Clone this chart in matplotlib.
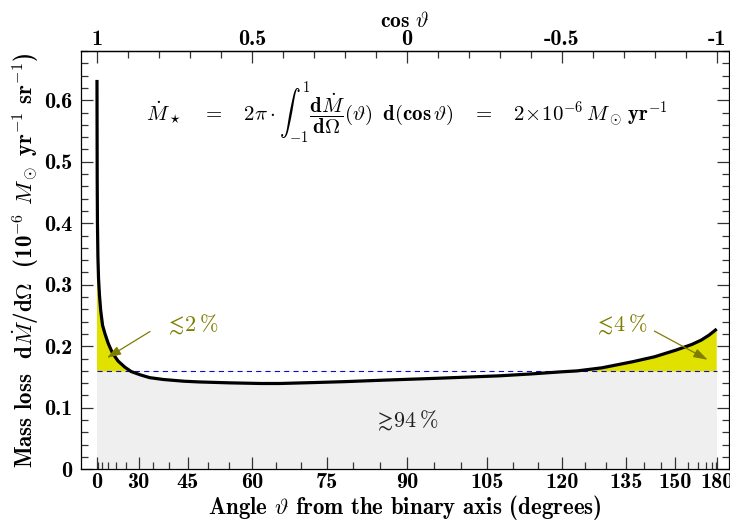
import numpy as np
import matplotlib.pyplot as plt
from matplotlib.ticker import FixedLocator, MultipleLocator, FuncFormatter

plt.rcParams['font.family'] = 'cmb10'
plt.rcParams['mathtext.fontset'] = 'cm'
plt.rcParams['axes.unicode_minus'] = False
plt.rcParams['font.size'] = 16.5

# mass loss per solid angle, sampled in cos(theta)
cos_theta = np.array([1.000, 0.9997, 0.9993, 0.9985, 0.997, 0.995, 0.992, 0.988,
                      0.982, 0.974, 0.964, 0.950, 0.932, 0.910, 0.890, 0.860,
                      0.830, 0.786, 0.72, 0.67, 0.57, 0.47, 0.41, 0.30, 0.20,
                      0.07, -0.10, -0.20, -0.30, -0.40, -0.50, -0.55, -0.63,
                      -0.73, -0.80, -0.87, -0.92, -0.95, -0.975, -1.00])
mdot = np.array([0.633, 0.55, 0.47, 0.40, 0.345, 0.31, 0.283, 0.258,
                 0.234, 0.220, 0.205, 0.189, 0.176, 0.166, 0.159, 0.1535,
                 0.149, 0.146, 0.1432, 0.142, 0.1405, 0.1395, 0.1395, 0.141, 0.1425,
                 0.145, 0.148, 0.150, 0.152, 0.155, 0.1585, 0.160, 0.165,
                 0.175, 0.183, 0.194, 0.203, 0.210, 0.218, 0.228])
level = 0.159  # isotropic reference level

theta_major = [0, 30, 45, 60, 75, 90, 105, 120, 135, 150, 180]
theta_minor = [d for d in range(5, 180, 5) if d not in theta_major]
cos_major = [1, 0.5, 0, -0.5, -1]
cos_labels = ['1', '0.5', '0', '-0.5', '-1']

olive = '#7d7d00'
arrow_style = '-|>,head_length=0.5,head_width=0.16'

fig = plt.figure(figsize=(7.3, 5.22), dpi=100)
ax = fig.add_axes([81 / 730, 52.7 / 522, 648 / 730, 418.3 / 522])

ax.fill_between(cos_theta, 0, level, color='#efefef', lw=0, zorder=1)
ax.fill_between(cos_theta, mdot, level, where=mdot < level, interpolate=True,
                color='white', lw=0, zorder=1.5)
ax.fill_between(cos_theta, level, mdot, where=mdot > level, interpolate=True,
                color='#e1e100', lw=0, zorder=1.5)
dash, = ax.plot([cos_theta[0], cos_theta[-1]], [level, level], color='#0a0ad0',
                lw=0.8, zorder=2)
dash.set_dashes((4.6, 3.8))
ax.plot(cos_theta, mdot, color='black', lw=2.3, zorder=3, solid_capstyle='butt')

ax.set_xlim(1.0516, -1.0397)
ax.set_ylim(0, 0.68)

# bottom axis: angle, placed at cos(theta)
ax.xaxis.set_major_locator(FixedLocator(np.cos(np.radians(theta_major))))
ax.xaxis.set_minor_locator(FixedLocator(np.cos(np.radians(theta_minor))))
ax.set_xticklabels([str(d) for d in theta_major])
ax.yaxis.set_major_locator(MultipleLocator(0.1))
ax.yaxis.set_minor_locator(MultipleLocator(0.02))
ax.yaxis.set_major_formatter(FuncFormatter(lambda v, p: '0' if abs(v) < 1e-9 else f'{v:.1f}'))
ax.tick_params(which='both', direction='in', right=True, top=False, width=0.9,
               color='#333333', labelsize=16)
ax.tick_params(which='major', length=8.5)
ax.tick_params(which='minor', length=5)
ax.tick_params(axis='x', pad=3)
ax.tick_params(axis='y', pad=6)

top = ax.secondary_xaxis('top')
top.xaxis.set_major_locator(FixedLocator(cos_major))
top.xaxis.set_minor_locator(MultipleLocator(0.1))
top.set_xticklabels(cos_labels)
top.tick_params(which='both', direction='in', width=0.9, color='#333333', pad=1.5,
                labelsize=16)
top.tick_params(which='major', length=8.5)
top.tick_params(which='minor', length=5)
top.set_xlabel(r'cos $\vartheta$', labelpad=2, fontsize=15.5)

for sp in ax.spines.values():
    sp.set_linewidth(0.9)
top.spines['top'].set_linewidth(0.9)

ax.set_xlabel(r'Angle $\vartheta$ from the binary axis (degrees)')
ax.set_ylabel(r'Mass loss  d$\dot{M}$/d$\Omega$  (10$^{-6}$ $M_\odot$ yr$^{-1}$ sr$^{-1}$)')
ax.xaxis.set_label_coords(0.5, -0.056)
ax.yaxis.set_label_coords(-0.062, 0.5)

ax.text(0.0, 0.58,
        r'$\dot{M}_\star\quad=\quad\mathbf{2}\pi\cdot\int_{-1}^{1}'
        r'\dfrac{\mathbf{d}\dot{M}}{\mathbf{d}\Omega}(\vartheta)\;\;'
        r'\mathbf{d(cos}\,\vartheta\mathbf{)}\quad=\quad'
        r'\mathbf{2}\!\times\!\mathbf{10}^{-6}\,M_\odot\,\mathbf{yr}^{-1}$',
        ha='center', va='center', fontsize=15)

# share of the total outflow in each region
ax.text(0.693, 0.234, r'$\lesssim\!\mathbf{2\,\%}$', color=olive,
        ha='center', va='center', fontsize=16)
ax.annotate('', xy=(0.968, 0.181), xytext=(0.829, 0.224),
            arrowprops=dict(arrowstyle=arrow_style, color=olive, lw=0.9,
                            mutation_scale=17, shrinkA=0, shrinkB=0))
ax.text(-0.691, 0.234, r'$\lesssim\!\mathrm{4\,\%}$', color=olive,
        ha='center', va='center', fontsize=16)
ax.annotate('', xy=(-0.971, 0.178), xytext=(-0.799, 0.2247),
            arrowprops=dict(arrowstyle=arrow_style, color=olive, lw=0.9,
                            mutation_scale=17, shrinkA=0, shrinkB=0))
ax.text(0.003, 0.078, r'$\gtrsim\!\mathrm{94\,\%}$', color='#222222',
        ha='center', va='center', fontsize=16)

fig.savefig('out.png', dpi=100)
